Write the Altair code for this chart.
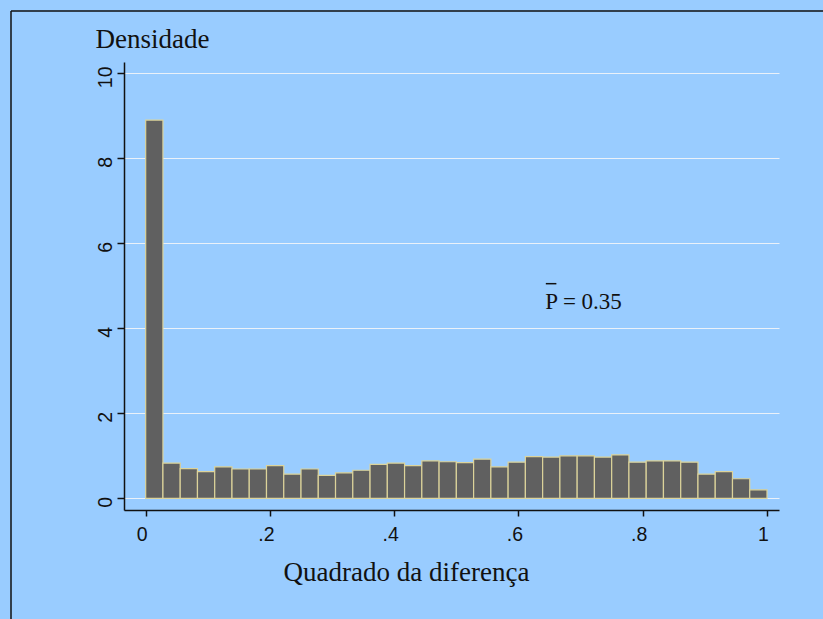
import altair as alt
import pandas as pd
import numpy as np
import jinja2

# ---- data -------------------------------------------------------------
densities = [8.90, 0.83, 0.70, 0.63, 0.74, 0.69, 0.69, 0.77, 0.57, 0.69, 0.54, 0.60,
             0.66, 0.80, 0.83, 0.77, 0.88, 0.86, 0.84, 0.92, 0.74, 0.85, 0.98, 0.97,
             1.00, 1.00, 0.97, 1.02, 0.85, 0.88, 0.88, 0.85, 0.57, 0.63, 0.46, 0.20]
x_ticks = [0, 0.2, 0.4, 0.6, 0.8, 1.0]
x_tick_labels = ["0", ".2", ".4", ".6", ".8", "1"]
y_ticks = [0, 2, 4, 6, 8, 10]
y_title = "Densidade"
x_title = "Quadrado da diferença"
annot_text = "P = 0.35"
annot_pos = (0.643, 4.45)
annot_bar = (0.644, 0.661, 5.05)

# ---- table -------------------------------------------------------------
edges = np.linspace(0, 1, len(densities) + 1)
df = pd.DataFrame({
    "x0": edges[:-1],
    "x1": edges[1:],
    "y0": [0.0] * len(densities),
    "density": densities,
})

BG = "#99CCFF"
xscale = alt.Scale(domain=[-0.0349, 1.0193], nice=False, zero=False)
yscale = alt.Scale(domain=[-0.275, 10.266], nice=False, zero=False)

label_js = "[" + ",".join("'%s'" % s for s in x_tick_labels) + "]"

bars = alt.Chart(df).mark_rect(
    fill="#606060", stroke="#DCD39A", strokeWidth=1.2
).encode(
    x=alt.X("x0:Q", scale=xscale, axis=alt.Axis(
        values=x_ticks,
        labelExpr=label_js + "[round(datum.value*5)]",
        grid=False,
        domainColor="#111111", domainWidth=1.5,
        tickColor="#111111", tickWidth=1.5, tickSize=6,
        labelFont="Liberation Sans", labelFontSize=19.5, labelColor="#111111",
        labelPadding=9, labelFlush=False, labelOffset=-4,
        title=x_title, titleFont="Liberation Serif", titleFontSize=27,
        titleFontWeight="normal", titleColor="#111111",
        titleAlign="center", titleBaseline="alphabetic",
        titleX=282, titleY=70,
    )),
    x2="x1:Q",
    y=alt.Y("y0:Q", scale=yscale, axis=alt.Axis(
        values=y_ticks,
        grid=True, gridColor="#EAF1F9", gridWidth=1,
        domainColor="#111111", domainWidth=1.5,
        tickColor="#111111", tickWidth=1.5, tickSize=7,
        labelAngle=270, labelAlign="center", labelBaseline="alphabetic",
        labelFont="Liberation Sans", labelFontSize=19.5, labelColor="#111111",
        labelPadding=6, labelFlush=False, labelOverlap=False, labelOffset=3.5,
        title=y_title, titleFont="Liberation Serif", titleFontSize=27,
        titleFontWeight="normal", titleColor="#111111", titleAngle=0,
        titleAlign="left", titleBaseline="alphabetic",
        titleX=-29, titleY=-14.5,
    )),
    y2="density:Q",
)

annot = alt.Chart(df).mark_text(
    align="left", baseline="alphabetic", font="Liberation Serif",
    fontSize=23, color="#111111", text=annot_text
).encode(
    x=alt.datum(annot_pos[0]), y=alt.datum(annot_pos[1])
).transform_filter("datum.x0 == 0")

overbar = alt.Chart(df).mark_rule(color="#111111", strokeWidth=1.5).encode(
    x=alt.datum(annot_bar[0]), x2=alt.datum(annot_bar[1]), y=alt.datum(annot_bar[2])
).transform_filter("datum.x0 == 0")

frame_top = alt.Chart(df).mark_rule(color="#111111", strokeWidth=1.5).encode(
    x=alt.value(-113), x2=alt.value(760), y=alt.value(-51)
).transform_filter("datum.x0 == 0")

frame_left = alt.Chart(df).mark_rule(color="#111111", strokeWidth=1.5).encode(
    x=alt.value(-113), y=alt.value(-51), y2=alt.value(620)
).transform_filter("datum.x0 == 0")

chart = alt.layer(bars, annot, overbar, frame_top, frame_left).properties(
    width=655, height=448,
    autosize=alt.AutoSizeParams(type="none"),
    padding={"left": 124, "top": 62, "right": 44, "bottom": 109},
    background=BG,
).configure_view(stroke=None)

# page template: same CDN scripts as the standard one, without the body margin
PAGE = jinja2.Template("""<!DOCTYPE html>
<html>
<head>
  <meta charset="utf-8">
  <style>
    html, body { margin: 0; padding: 0; background: #99CCFF; overflow: hidden; }
    #{{ output_div }}.vega-embed { display: block; }
  </style>
  <script type="text/javascript" src="{{ base_url }}/vega@{{ vega_version }}"></script>
  <script type="text/javascript" src="{{ base_url }}/vega-lite@{{ vegalite_version }}"></script>
  <script type="text/javascript" src="{{ base_url }}/vega-embed@{{ vegaembed_version }}"></script>
</head>
<body>
  <div id="{{ output_div }}"></div>
  <script>
    (function(vegaEmbed) {
      var spec = {{ spec }};
      var embedOpt = {{ embed_options }};
      vegaEmbed("#{{ output_div }}", spec, embedOpt).catch(console.error);
    })(vegaEmbed);
  </script>
</body>
</html>
""")

chart.save("out.html", embed_options={"renderer": "svg", "actions": False}, template=PAGE)
